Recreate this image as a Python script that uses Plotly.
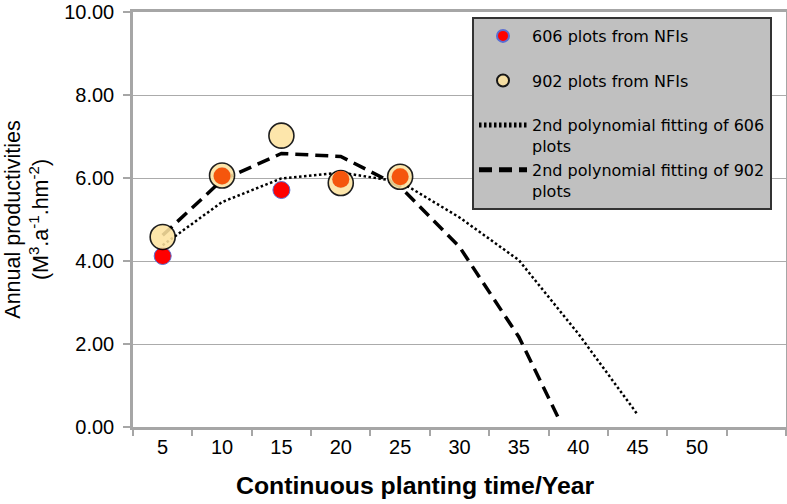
import plotly.graph_objects as go

# ---------------- data ----------------
years = [5, 10, 15, 20, 25]
plots_606 = [4.12, 6.05, 5.71, 5.97, 6.03]
plots_902 = [4.58, 6.06, 7.02, 5.88, 6.03]

fit606_x = [5, 10, 15, 20, 25, 30, 35, 40, 45]
fit606_y = [4.38, 5.42, 5.99, 6.13, 5.91, 5.05, 4.02, 2.25, 0.30]

fit902_x = [5, 10, 15, 20, 25, 30, 35, 38.5]
fit902_y = [4.62, 5.95, 6.59, 6.52, 5.79, 4.34, 2.17, 0.12]

x_tick_values = [5, 10, 15, 20, 25, 30, 35, 40, 45, 50]
x_tick_labels = ["5", "10", "15", "20", "25", "30", "35", "40", "45", "50"]
# overlap highlighting (red seen through the yellow circles)
overlap_alpha = [0, 1, 0, 1, 1]

FONT = "Liberation Sans, Arial, sans-serif"
LEG_FONT = "DejaVu Sans, Liberation Sans, sans-serif"
FRAME = "#A6A6A6"

fig = go.Figure()

fig.add_trace(go.Scatter(
    x=fit606_x, y=fit606_y, mode="lines",
    name="2nd polynomial fitting of 606<br>plots",
    line=dict(color="black", width=2.5, dash="2.5px,2.5px"),
    legendrank=3,
))
fig.add_trace(go.Scatter(
    x=fit902_x, y=fit902_y, mode="lines",
    name="2nd polynomial fitting of 902<br>plots",
    line=dict(color="black", width=3.5, dash="13px,7px"),
    legendrank=4,
))
fig.add_trace(go.Scatter(
    x=years, y=plots_606, mode="markers",
    name="606 plots from NFIs<br>\u00a0",
    marker=dict(size=17, color="#FF0000", line=dict(color="#5A6ED2", width=1)),
    legendrank=1,
))
fig.add_trace(go.Scatter(
    x=years, y=plots_902, mode="markers",
    name="902 plots from NFIs<br>\u00a0",
    marker=dict(size=25, color="#FDE3A0", opacity=0.88, line=dict(color="black", width=1.6)),
    legendrank=2,
))
fig.add_trace(go.Scatter(
    x=years, y=plots_606, mode="markers", showlegend=False, hoverinfo="skip",
    marker=dict(size=17, color="#F5560C", opacity=overlap_alpha, line=dict(width=0)),
))

fig.update_layout(
    width=787, height=504,
    margin=dict(l=133, r=1, t=12, b=77, autoexpand=False),
    plot_bgcolor="white", paper_bgcolor="white",
    font=dict(family=FONT, size=20, color="black"),
    showlegend=True,
    legend=dict(
        x=(472 - 133) / 653, y=1 - (17 - 12) / 415,
        xanchor="left", yanchor="top",
        bgcolor="#C0C0C0", bordercolor="#333333", borderwidth=2,
        font=dict(family=LEG_FONT, size=16, color="black"),
        itemwidth=48, valign="top", itemsizing="constant",
        tracegroupgap=0,
    ),
    xaxis=dict(
        range=[2.5, 57.5], automargin=False,
        tickmode="array", tickvals=x_tick_values, ticktext=x_tick_labels,
        ticks="", showgrid=False, zeroline=False,
        showline=True, linecolor=FRAME, linewidth=2.5, mirror=True,
        tickfont=dict(size=20, color="black"),
        minor=dict(tickmode="array",
                   tickvals=[v - 2.5 for v in x_tick_values] + [x_tick_values[-1] + 2.5, x_tick_values[-1] + 7.5],
                   ticks="outside", ticklen=6, tickwidth=1.5, tickcolor=FRAME, showgrid=False),
    ),
    yaxis=dict(
        range=[0, 10], dtick=2, tickformat=".2f", automargin=False,
        showgrid=True, gridcolor="#ABABAB", gridwidth=1,
        zeroline=False,
        ticks="outside", ticklen=7, tickwidth=1.5, tickcolor=FRAME,
        showline=True, linecolor=FRAME, linewidth=2.5, mirror=True,
        tickfont=dict(size=20, color="black"),
        ticklabelstandoff=5,
        title=dict(text="Annual productivities<br>(M<sup>3</sup>.a<sup>-1</sup>.hm<sup>-2</sup>)",
                   font=dict(size=21.5, color="black"), standoff=10),
    ),
    annotations=[dict(
        text="<b>Continuous planting time/Year</b>",
        xref="paper", yref="paper", x=(415 - 133) / 653, y=(427 - 485) / 415,
        xanchor="center", yanchor="middle", showarrow=False,
        font=dict(family=FONT, size=24.8, color="black"),
    )],
)

fig.write_html("out.html", config={"displayModeBar": False},
               post_script="document.body.style.margin='0px';")
